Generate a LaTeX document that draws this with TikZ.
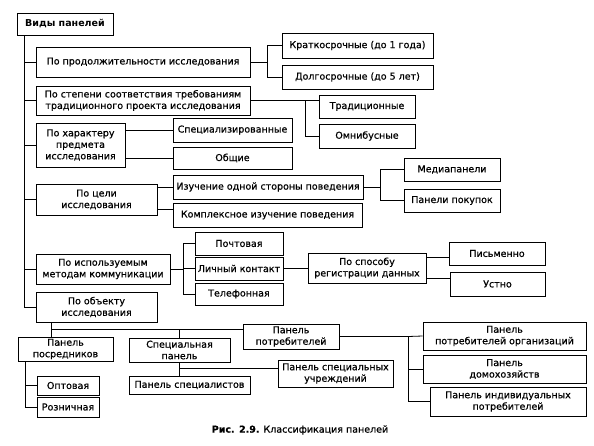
\documentclass[tikz,border=0pt]{standalone}
\usepackage{fontspec}
\setmainfont{DejaVu Sans}
\newfontfamily\boxfont{DejaVu Sans}[FakeBold=0.7]
\usepackage{tikz}

\begin{document}
\begin{tikzpicture}[x=1pt,y=-1pt,
  box/.style={draw,line width=0.8pt,align=center,inner sep=1pt,
    font=\boxfont\fontsize{9.5}{11.5}\selectfont},
  wh/.style 2 args={minimum width=#1pt,minimum height=#2pt},
  link/.style={line width=0.8pt}]
  \useasboundingbox (0,0) rectangle (594,446);
  % root and first level
  \node[box,wh={96}{22},font=\fontsize{9.5}{11.5}\selectfont\bfseries] (root) at (65,24) {Виды панелей};
  \node[box,wh={214}{30}] (dur) at (143,62) {По продолжительности исследования};
  \node[box,wh={214}{29}] (trd) at (143,100.5) {По степени соответствия требованиям\\традиционного проекта исследования};
  \node[box,wh={89}{44}] (subj) at (80.5,145) {По характеру\\предмета\\исследования};
  \node[box,wh={121}{31}] (aim) at (96.5,199.5) {По цели\\исследования};
  \node[box,wh={134}{30}] (comm) at (103,269) {По используемым\\методам коммуникации};
  \node[box,wh={121}{30}] (obj) at (96.5,307) {По объекту\\исследования};
  % second level
  \node[box,wh={151}{25}] (short) at (357.5,45.5) {Краткосрочные (до 1 года)};
  \node[box,wh={151}{24}] (long) at (357.5,77) {Долгосрочные (до 5 лет)};
  \node[box,wh={96}{23}] (trad) at (367,106.5) {Традиционные};
  \node[box,wh={96}{24}] (omni) at (367,136) {Омнибусные};
  \node[box,wh={119}{24}] (spec) at (232.5,130) {Специализированные};
  \node[box,wh={119}{22}] (gen) at (232.5,158) {Общие};
  \node[box,wh={190}{24}] (one) at (268,187) {Изучение одной стороны поведения};
  \node[box,wh={189}{24}] (cmplx) at (267.5,215) {Комплексное изучение поведения};
  \node[box,wh={96}{23}] (media) at (452,169.5) {Медиапанели};
  \node[box,wh={96}{23}] (buy) at (452,200.5) {Панели покупок};
  \node[box,wh={88}{23}] (mail) at (239,243.5) {Почтовая};
  \node[box,wh={88}{23}] (pers) at (239,268.5) {Личный контакт};
  \node[box,wh={88}{22}] (phone) at (239,294) {Телефонная};
  \node[box,wh={118}{30}] (reg) at (367,268) {По способу\\регистрации данных};
  \node[box,wh={96}{23}] (write) at (497,253.5) {Письменно};
  \node[box,wh={95}{24}] (oral) at (497.5,284) {Устно};
  % by object
  \node[box,wh={95}{24}] (mid) at (65.5,349) {Панель\\посредников};
  \node[box,wh={101}{24}] (spc) at (179.5,350) {Специальная\\панель};
  \node[box,wh={96}{25}] (cons) at (291,336.5) {Панель\\потребителей};
  \node[box,wh={62}{19}] (opt) at (68,385.5) {Оптовая};
  \node[box,wh={62}{20}] (ret) at (68,407) {Розничная};
  \node[box,wh={121}{18}] (spcl) at (189.5,385) {Панель специалистов};
  \node[box,wh={115}{27}] (inst) at (335.5,373.5) {Панель специальных\\учреждений};
  \node[box,wh={163}{28}] (org) at (504.5,336) {Панель\\потребителей организаций};
  \node[box,wh={163}{28}] (home) at (504.5,369) {Панель\\домохозяйств};
  \node[box,wh={156}{29}] (indiv) at (508,401.5) {Панель индивидуальных\\потребителей};
  \node[font=\boxfont\fontsize{9.5}{11.5}\selectfont] (cap) at (300,430) {{\bfseries Рис. 2.9.} Классификация панелей};

  % connectors
  \coordinate (trunk) at ([xshift=8pt]root.south west);
  \foreach \n in {dur,trd,subj,aim,comm,obj} \draw[link] (trunk) |- (\n.west);
  \draw[link] (dur.east) -- ++(17,0) coordinate (j1) |- (short.west);
  \draw[link] (j1) |- (long.west);
  \draw[link] (trd.east) -- (trd.east -| trad.west);
  \draw[link] (trd.east) ++(55,0) coordinate (j2) |- (omni.west);
  \draw[link] (spec.west) -- (spec.west -| subj.east);
  \draw[link] (gen.west) -- (gen.west -| subj.east);
  \draw[link] (one.west) -- (one.west -| aim.east);
  \draw[link] ([yshift=6pt]cmplx.west) coordinate (c1) -- (c1 -| aim.east);
  \draw[link] (one.east) -- ++(17,0) coordinate (j3) |- (media.west);
  \draw[link] (j3) |- (buy.west);
  \draw[link] (comm.east) -- ++(13,0) coordinate (j4) |- (mail.west);
  \foreach \n in {pers,phone} \draw[link] (j4) |- (\n.west);
  \draw[link] (pers.east) -- (pers.east -| reg.west);
  \draw[link] ([yshift=-4pt]write.west) coordinate (w1) -- (w1 -| reg.east);
  \draw[link] ([yshift=6pt]oral.west) coordinate (w2) -- (w2 -| reg.east);
  % object branch
  \coordinate (j5) at ([xshift=16pt,yshift=-7pt]obj.south west);
  \draw[link] (j5 |- obj.south) -- (j5 |- mid.north);
  \draw[link] (j5) -- (j5 -| cons.west);
  \draw[link] (spc.north) -- (spc.north |- j5);
  \draw[link] ([xshift=8pt]mid.south west) |- (opt.west);
  \draw[link] ([xshift=8pt]mid.south west) |- (ret.west);
  \draw[link] (spc.south) -- (spc.south |- spcl.north);
  \draw[link] ([yshift=5pt]inst.west) coordinate (i1) -- (i1 -| spc.south);
  \draw[link] (cons.east) -- ++(69,0) coordinate (j6) -- (org.west);
  \foreach \n in {home,indiv} \draw[link] (j6) |- (\n.west);
\end{tikzpicture}
\end{document}
